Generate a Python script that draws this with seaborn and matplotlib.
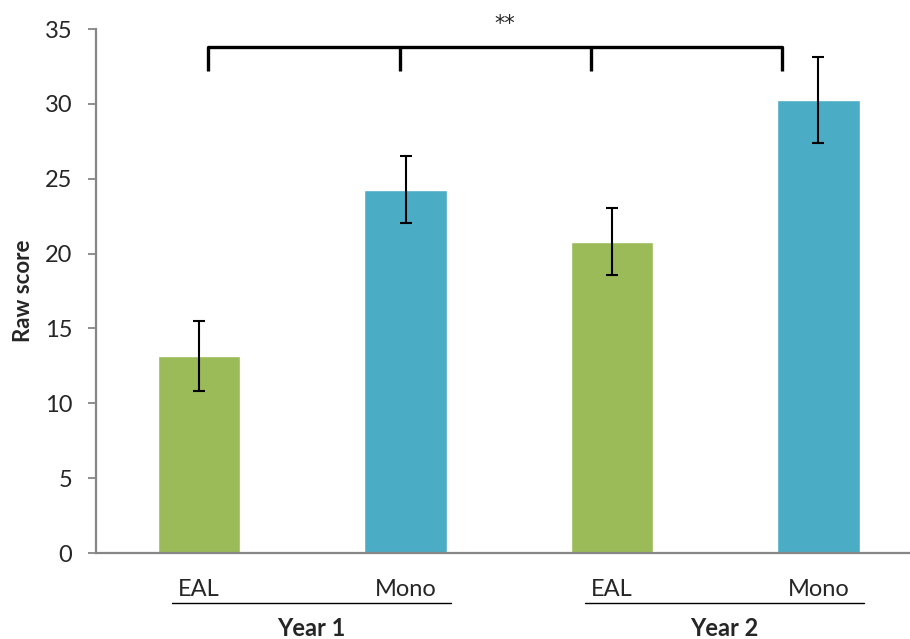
import matplotlib
matplotlib.use("Agg")
import matplotlib.pyplot as plt
import seaborn as sns
import pandas as pd
from matplotlib.transforms import blended_transform_factory

# Mean raw scores and error margins per group
groups = ["Year 1 EAL", "Year 1 Mono", "Year 2 EAL", "Year 2 Mono"]
tick_labels = ["EAL", "Mono", "EAL", "Mono"]
year_labels = ["Year 1", "Year 2"]
means = [13.16, 24.25, 20.78, 30.26]
errors = [2.33, 2.24, 2.24, 2.9]
colors = ["#9BBB59", "#4BACC6", "#9BBB59", "#4BACC6"]
yticks = [0, 5, 10, 15, 20, 25, 30, 35]

sns.set_style("white")
plt.rcParams["font.family"] = ["Lato", "DejaVu Sans"]

df = pd.DataFrame({"group": groups, "score": means})

fig = plt.figure(figsize=(9.10, 6.39), dpi=100)
ax = fig.add_axes([96 / 910, 86 / 639, (921.5 - 96) / 910, 524 / 639])

sns.barplot(data=df, x="group", y="score", hue="group", palette=colors,
            width=0.4, legend=False, ax=ax, saturation=1)
ax.errorbar(range(len(means)), means, yerr=errors, fmt="none",
            ecolor="black", elinewidth=1.5, capsize=4.5, capthick=1.5)

ax.set_xlim(-0.5, 3.5)
ax.set_ylim(0, 35)
ax.set_yticks(yticks)
ax.set_xticks(range(len(groups)))
ax.set_xticklabels(tick_labels, fontsize=17)
ax.tick_params(axis="y", labelsize=17, length=6, width=1.3, color="#868686",
               pad=11, left=True, direction="out")
ax.tick_params(axis="x", length=0, pad=19)
ax.set_xlabel("")
ax.set_ylabel("Raw score", fontsize=16, fontweight="bold", labelpad=8)

for side in ["top", "right"]:
    ax.spines[side].set_visible(False)
for side in ["left", "bottom"]:
    ax.spines[side].set_color("#868686")
    ax.spines[side].set_linewidth(1.6)

# Group underlines and year labels below the tick labels
trans = blended_transform_factory(ax.transData, ax.transAxes)
line_y = -50 / 524
for i, year in enumerate(year_labels):
    x0 = 2 * i
    ax.plot([x0 - 0.13, x0 + 1.22], [line_y, line_y], color="black", lw=1.0,
            transform=trans, clip_on=False)
    ax.text(x0 + 0.545, -75 / 524, year, transform=trans, ha="center",
            va="center", fontsize=17, fontweight="bold")

# Significance bracket across the four groups
bx = [0.041, 0.971, 1.90, 2.825]
top, low = 33.8, 32.2
ax.plot([bx[0], bx[0], bx[3], bx[3]], [low, top, top, low], color="black",
        lw=2.4, solid_joinstyle="round", solid_capstyle="butt", clip_on=False)
for x in bx[1:3]:
    ax.plot([x, x], [top, low], color="black", lw=2.4, solid_capstyle="butt",
            clip_on=False)
ax.text(1.48, 35.35, "**", ha="center", va="center", fontsize=15,
        family="DejaVu Sans", clip_on=False)

fig.savefig("out.png", dpi=100)
